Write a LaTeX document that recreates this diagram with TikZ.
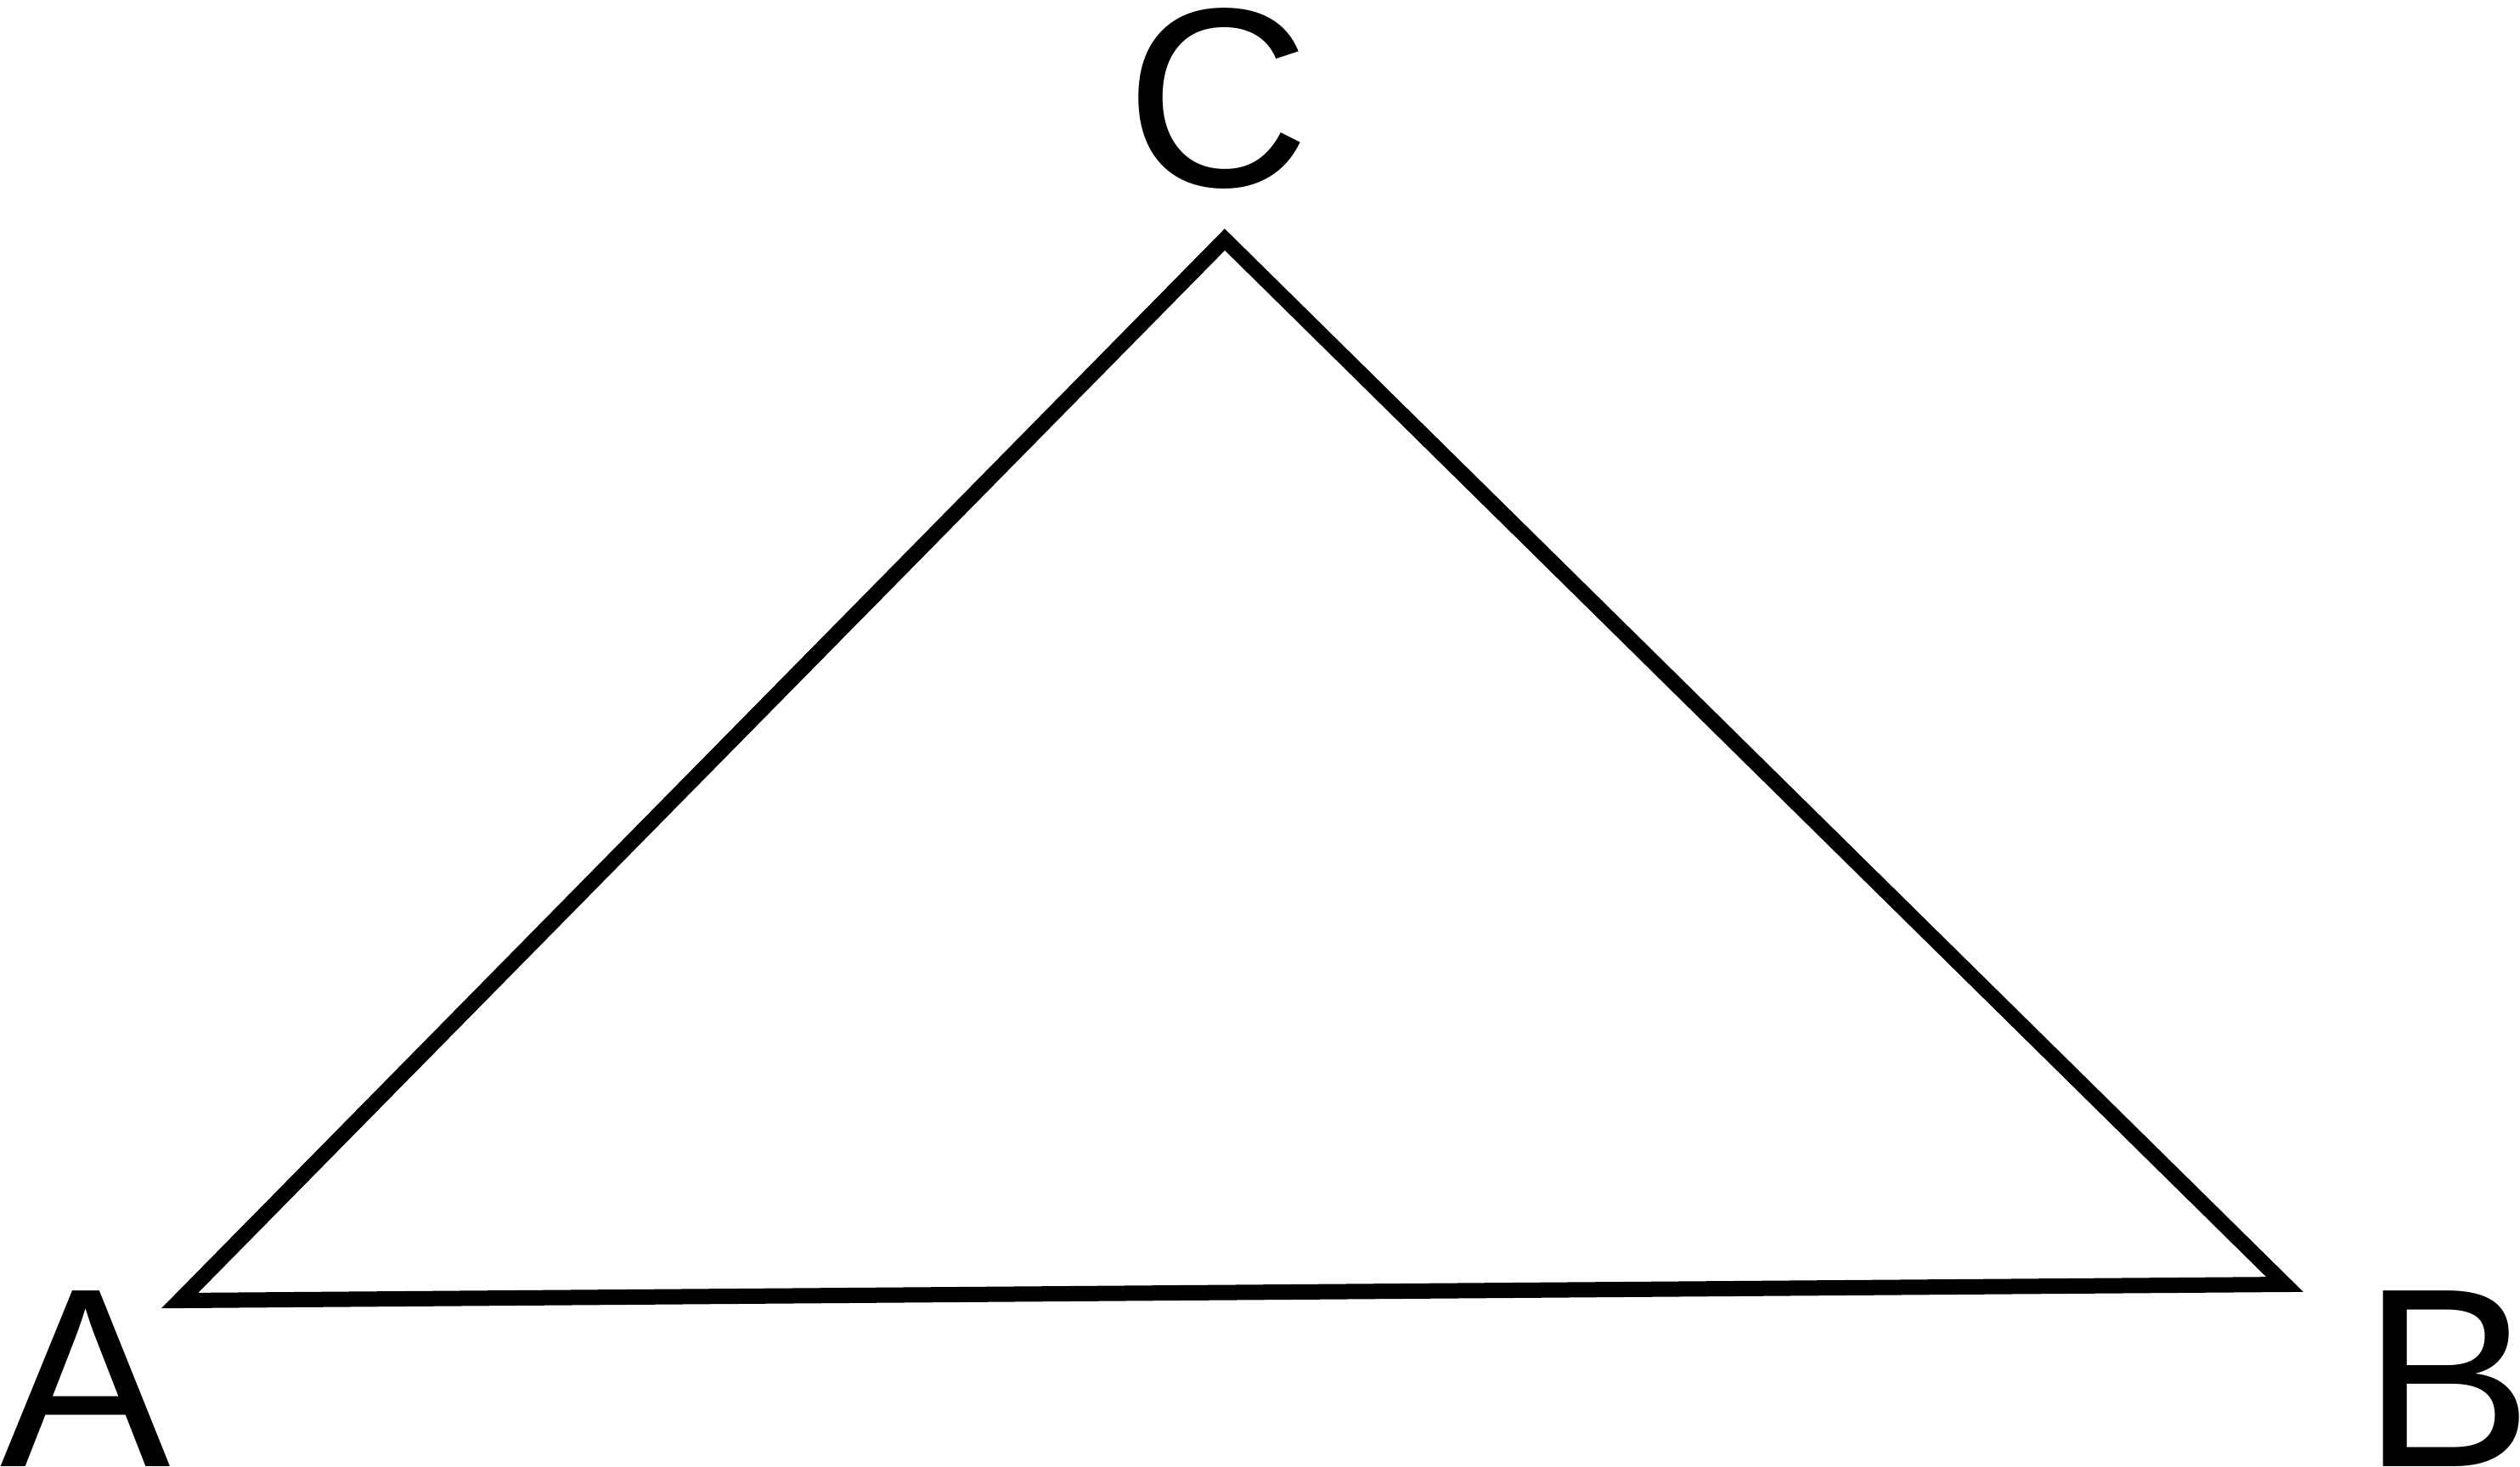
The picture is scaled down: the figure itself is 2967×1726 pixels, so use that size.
\documentclass[tikz,border=0pt]{standalone}
\usepackage{fontspec}
\setmainfont{Liberation Sans}
\begin{document}
\begin{tikzpicture}[x=0.01cm,y=-0.01cm,
  vlabel/.style={anchor=base west,inner sep=0pt,font=\fontsize{85.5}{100}\selectfont},
  tri/.style={draw=black,line width=0.18cm,line join=miter}]
\useasboundingbox (0,0) rectangle (2967,1726);
\coordinate (pA) at (211.7,1531);
\coordinate (pB) at (2690,1512);
\coordinate (pC) at (1442,282);
\draw[tri] (pA) -- (pB) -- (pC) -- cycle;
\node[vlabel] (lA) at (0,1726) {A};
\node[vlabel] (lB) at (2781,1726) {B};
\node[vlabel] (lC) at (1325,219.5) {C};
\end{tikzpicture}
\end{document}
